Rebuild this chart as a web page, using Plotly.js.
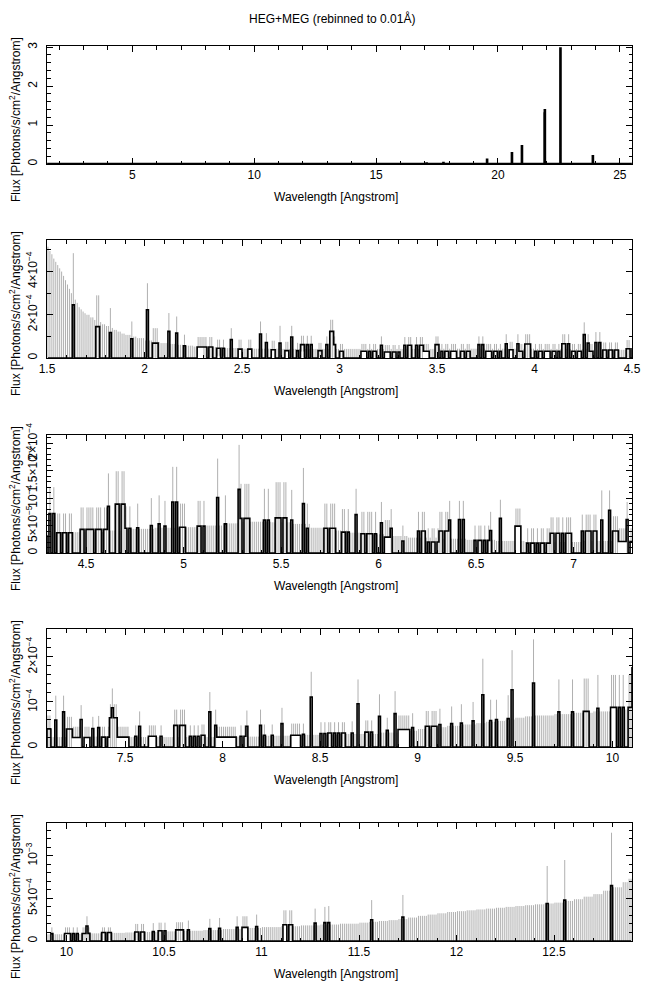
<!DOCTYPE html>
<html><head><meta charset="utf-8">
<script src="https://cdn.plot.ly/plotly-3.0.1.min.js"></script>
<style>html,body{margin:0;padding:0;background:#fff}#plot{width:650px;height:991px}</style>
</head><body><div id="plot"></div>
<script>
// ---------------- DATA (flux in units of 1e-5 photons/s/cm2/Angstrom) ----------------
const UNIT = 1e-5;
const BIN = 0.01;               // rebinned to 0.01 Angstrom
const gridLo = 1.5, gridHi = 12.9, fullHi = 25.5;

// runs of non-zero bins: start wavelength, number of bins, flux, error-bar top, error-bar bottom
const runStart = [1.63,1.75,1.82,1.93,2.01,2.04,2.12,2.16,2.20,2.27,2.30,2.37,2.44,2.48,2.53,2.59,2.62,2.65,2.69,2.72,2.75,2.78,2.80,2.83,2.89,2.93,2.95,2.97,3.00,3.11,3.15,3.21,3.23,3.27,3.33,3.35,3.38,3.41,3.43,3.49,3.52,3.57,3.62,3.71,3.75,3.79,3.85,3.87,3.91,3.92,3.95,4.00,4.05,4.09,4.14,4.17,4.19,4.22,4.25,4.27,4.28,4.31,4.35,4.47,4.53,4.61,4.65,4.70,4.76,4.83,4.87,4.90,4.94,4.96,4.98,5.07,5.17,5.21,5.28,5.29,5.41,5.47,5.55,5.61,5.63,5.72,5.81,5.88,5.91,6.01,6.03,6.06,6.12,6.20,6.25,6.31,6.36,6.41,6.49,6.57,6.62,6.70,6.76,6.88,7.04,7.14,7.18,7.20,7.23,7.27,7.29,7.33,7.36,7.38,7.42,7.43,7.44,7.46,7.55,7.57,7.62,7.68,7.75,7.83,7.89,7.93,7.96,7.97,8.09,8.12,8.19,8.21,8.25,8.30,8.35,8.41,8.45,8.50,8.54,8.59,8.66,8.69,8.73,8.80,8.84,8.88,8.90,8.97,9.04,9.11,9.17,9.22,9.28,9.33,9.37,9.40,9.46,9.48,9.59,9.72,9.79,9.85,9.92,9.99,10.03,10.08,10.10,10.11,10.18,10.21,10.35,10.38,10.44,10.47,10.50,10.56,10.62,10.73,10.78,10.87,10.90,10.97,11.11,11.14,11.27,11.32,11.34,11.56,11.72,12.46,12.55,12.79];
const runBins = [1,2,1,1,1,3,1,1,1,3,5,4,1,2,2,1,1,2,1,2,1,1,2,3,2,1,2,1,2,3,4,1,3,4,1,2,2,2,3,2,4,3,5,3,3,4,1,2,1,2,3,4,3,4,2,1,2,2,1,1,2,3,8,6,8,1,5,3,1,1,1,1,1,1,3,4,1,1,1,5,3,6,1,1,1,6,4,1,8,1,3,1,1,4,6,5,1,3,8,1,1,3,12,11,8,1,1,3,4,1,3,1,1,4,1,1,2,6,1,1,4,1,6,5,2,1,1,10,3,1,1,1,1,1,5,1,1,3,4,4,1,1,4,1,1,1,6,1,6,1,1,1,1,1,1,1,1,1,1,1,1,3,1,3,3,2,1,1,2,2,2,2,1,2,1,4,1,1,1,1,3,1,2,2,1,1,1,1,1,1,1,1];
const runFlux = [24.6,14.5,11.8,8.9,22.3,6.9,12.3,11.5,5.7,5.1,5.1,4.5,8.5,4.1,4.1,11.1,7.2,3.8,6.9,3.4,9.7,3.4,6.2,6.2,3.4,6.2,12.3,6.2,3.1,3.1,3.1,5.9,2.8,2.8,5.9,5.9,5.9,5.9,3.1,6.2,3.1,3.1,3.1,6.2,3.1,3.1,6.6,3.8,6.6,3.1,6.5,3.1,3.1,3.1,6.6,6.6,3.1,3.1,10.8,6.9,3.1,7.2,3.7,4.3,4.3,8.5,8.9,4.5,4.6,5.0,5.3,4.9,9.3,9.3,4.7,4.9,10.1,5.3,11.6,6.3,6.0,6.4,6.0,9.0,4.5,4.5,3.8,7.0,3.5,5.5,2.9,4.5,2.2,4.0,2.0,4.0,6.0,6.1,2.3,4.1,6.3,4.9,1.8,3.6,4.0,6.0,7.8,4.0,2.1,6.1,2.1,4.1,4.3,2.2,6.5,8.7,6.5,2.2,2.4,4.6,2.4,2.4,4.8,2.4,2.6,7.8,4.8,2.2,2.4,4.6,4.8,2.6,2.6,5.2,2.6,2.8,11.1,3.0,3.1,3.1,3.1,9.6,3.3,6.8,3.7,7.4,3.9,4.3,4.6,5.0,5.2,5.3,5.8,11.6,5.9,6.1,6.3,12.7,14.2,7.8,7.8,7.9,8.6,8.8,8.8,8.8,17.6,9,10,10,10.6,10.6,11,12,12,13,13,14.5,15,16,16,17,19,19,21,21.5,21.5,25,28,44,48,65];
const runTop = [48.5,29,23.1,16.9,34.6,13.8,20.8,19.2,10.8,9.7,9.7,8.5,13.8,8.5,8.5,16.9,11.5,8,14.9,7.5,14.9,7,10.3,10.3,7,10,17.7,10,6.5,6.5,6.5,10,6,6,9.7,9.7,9.7,9.7,6.5,10,6.5,6.5,6.5,10,6.5,6.5,11,7.5,11,6.5,11,6.5,6.5,6.5,11,11,6.5,6.5,16.5,11,6.5,12,7.2,8.3,8.3,14.5,14.9,8.5,9,10,10.5,9.5,15.7,15.7,9,9.5,17.2,10.5,19.7,12.6,11.7,12.9,11.5,15.5,9,9,8,11.7,7.5,9.3,6,8,5,7.5,4.5,7.5,9.5,9.5,5,7.5,9.7,8.1,4.5,6.5,7,11.4,11.4,6.7,4.5,9.3,4.5,6.7,6.9,4.5,9.5,13,9.5,4.5,4.8,7.9,4.8,4.8,8.3,4.8,5,12.2,8.3,4.5,4.8,8.1,8.3,5,5,8.7,5.2,5.2,16.7,5.5,5.5,5.5,5.7,15,5.9,11.7,6.5,12.4,7,7.5,8,8.5,9,9.5,10,19.6,10.5,10.5,11.5,21.5,23.9,15,15,15.2,16,16,16,16,29,16,16,16,20,20,21,21.5,21.5,22,24,26,27,29,29,31,36,36,38,40,41,48,54,88,95,127];
const runBottom = [0,0,0,0,0,0,0,0,0,5.1,0,1,0,4.1,4.1,0,0,3.8,0,3.4,0,0,3,0,0,0,0,0,0,3.1,0,0,2.8,0,0,0,0,0,3.1,0,0,3.1,0,0,3.1,0,0,3.8,0,0,0,0,3.1,0,0,0,0,3.1,0,0,0,0,0,0,0,0,0,0,0,0,0,0,0,0,0,0,0,0,0,0,0,0,0,0,0,0,0,0,0,0,2.9,0,0,0,0,0,0,0,0,0,0,4.9,0,0,0,0,0,0,2.1,0,2.1,0,0,0,0,0,0,2.2,0,0,2.4,0,0,0,0,0,0,2.2,0,0,0,0,0,0,2.6,0,0,0,0,0,0,0,0,0,0,0,3.9,0,0,0,0,0,0,0,0,0,0,0,0,0,0,0,8.6,8.8,0,0,0,0,0,0,0,0,0,0,0,0,0,0,0,0,16,0,19,0,0,0,0,0,0,0,0,0];

// runs that contain empty bins: run start and bin pattern (1 = filled, 0 = empty)
const maskStart = [2.30,2.37,2.83,3.15,3.27,3.38,3.52,3.62,3.71,3.79,4.00,4.09,4.31,4.35,4.47,4.53,4.65,4.70,5.07,5.29,5.41,5.47,5.72,5.81,5.91,6.20,6.25,6.31,6.41,6.49,6.76,6.88,7.04,7.38,7.75,7.83,8.09,8.50,8.54,8.59,8.73,9.04,10.03];
const maskPattern = ["11011","1101","101","1011","1101","01","1011","11011","101","1101","1011","1101","101","11011011","110111","10111011","11011","101","1101","10111","101","111011","110111","1101","11011101","1011","101101","11011","101","10110101","101101011011","11011010111","10111011","1101","110111","10101","101","101","1101","1011","1101","110111","101"];

// 1-sigma upper limit for empty bins (read as steps from the picture)
const envWave = [1.50,1.51,1.52,1.53,1.54,1.55,1.56,1.57,1.58,1.59,1.60,1.61,1.62,1.63,1.64,1.65,1.66,1.67,1.68,1.69,1.70,1.72,1.74,1.76,1.78,1.80,1.82,1.84,1.86,1.88,1.90,1.93,1.96,2.00,2.04,2.08,2.12,2.16,2.20,2.25,2.30,2.40,2.50,2.70,3.00,3.50,4.00,4.30,4.60,4.70,4.85,5.00,5.10,5.20,5.30,5.45,5.55,5.65,5.75,5.85,5.95,6.05,6.15,6.30,6.45,6.60,6.75,6.90,7.05,7.20,7.40,8.00,8.20,8.40,8.60,8.80,8.90,9.00,9.08,9.15,9.22,9.30,9.35,9.40,9.45,9.50,9.55,9.60,9.70,9.80,9.90,10.00,10.10,10.20,10.30,10.40,10.50,10.60,10.70,10.80,10.90,11.00,11.10,11.20,11.30,11.40,11.50,11.55,11.60,11.65,11.70,11.75,11.80,11.85,11.90,11.95,12.00,12.05,12.10,12.15,12.20,12.25,12.30,12.35,12.40,12.45,12.50,12.55,12.60,12.65,12.70,12.75,12.80,12.85,12.88];
const envFlux = [51.5,49.5,48,46,44.5,43,41.5,40,38,36,34,32,30,28.5,27,25.5,23.5,22.5,21.5,20.7,20,18.8,17.6,16.6,15.6,14.8,13.9,13.0,12.2,11.3,10.7,9.9,9.2,8.1,7.4,6.9,6.5,6.1,5.7,5.3,5.0,4.6,4.3,4.2,4.2,4.3,4.2,3.8,4.1,4.4,4.6,4.7,5.0,5.4,5.7,5.6,5.3,4.6,4.1,3.7,3.4,3.1,2.8,2.6,2.4,2.2,2.0,2.0,2.2,2.3,2.2,2.3,2.5,2.7,2.9,3.2,3.6,4.0,4.4,4.7,5.0,5.3,5.6,5.8,6.1,6.5,6.8,7.0,7.3,7.6,7.9,8.3,9.0,9.5,10,10.6,11.3,12,12.8,14,15.3,16.3,17.3,18.3,19.3,20.3,21.5,22.5,23.5,24.5,25.7,27.5,29.5,31,32.5,34,35,36,37,38,39,40,41,42,43,44,45,47,49,52,55,59,63,69,73];

// strong lines in the full-range panel (absolute flux)
const lineWave = [17.08,17.76,19.56,20.58,20.99,21.91,21.92,22.56,23.89];
const lineFlux = [0.015,0.03,0.11,0.28,0.46,1.30,1.38,2.97,0.20];

// tick labels
const yTickVals = [[0,1,2,3],[0,2e-4,4e-4],[0,5e-5,1e-4,1.5e-4,2e-4],[0,1e-4,2e-4],[0,5e-4,1e-3]];
const yTickText = [["0","1","2","3"],["0","2×10<sup>−4</sup>","4×10<sup>−4</sup>"],["0","5×10<sup>−5</sup>","10<sup>−4</sup>","1.5×10<sup>−4</sup>","2×10<sup>−4</sup>"],["0","10<sup>−4</sup>","2×10<sup>−4</sup>"],["0","5×10<sup>−4</sup>","10<sup>−3</sup>"]];

// ---------------- LAYOUT CONSTANTS ----------------
const W = 650, H = 991, PL = 47, PR = 632, PH = 118;
const panelTop = [46, 240, 435, 629, 823];
const xRange = [[1.5,25.5],[1.5,4.5],[4.3,7.3],[7.1,10.1],[9.9,12.9]];
const yTop = [3.03, 5.46e-4, 2.15e-4, 2.62e-4, 1.384e-3];
const yMinor = [0.2, 1e-4, 1e-5, 2e-5, 1e-4];
const xMajor = [5,0.5,0.5,0.5,0.5], xMinor = [1,0.1,0.1,0.1,0.1];
const FONT = "Liberation Sans, Arial, Helvetica, sans-serif";

// ---------------- BUILD BINS ----------------
function envAt(c){
  let v = envFlux[0];
  for (let k = 0; k < envWave.length; k++){ if (envWave[k] <= c + 1e-9) v = envFlux[k]; else break; }
  return v;
}
const nFine = Math.round((gridHi - gridLo)/BIN);
const cx = [], fy = [], ep = [], em = [];
for (let i = 0; i < nFine; i++){
  const c = gridLo + (i + 0.5)*BIN;
  cx.push(c); fy.push(0); ep.push(envAt(c - 0.5*BIN)*UNIT); em.push(0);
}
for (let r = 0; r < runStart.length; r++){
  const i0 = Math.round((runStart[r] - gridLo)/BIN);
  const mi = maskStart.findIndex(s => Math.abs(s - runStart[r]) < 1e-6);
  const pat = mi >= 0 ? maskPattern[mi] : null;
  for (let j = 0; j < runBins[r]; j++){
    const k = i0 + j; if (k < 0 || k >= nFine) continue;
    if (pat && pat[j] === '0') continue;
    fy[k] = runFlux[r]*UNIT;
    ep[k] = (runTop[r] - runFlux[r])*UNIT;
    em[k] = (runFlux[r] - runBottom[r])*UNIT;
  }
}
// full range bins
const nFull = Math.round((fullHi - gridLo)/BIN);
const fx = [], ff = [];
for (let i = 0; i < nFull; i++){ fx.push(gridLo + (i + 0.5)*BIN); ff.push(i < nFine ? fy[i] : 0); }
for (let k = 0; k < lineWave.length; k++){
  const i = Math.round((lineWave[k] - gridLo)/BIN - 0.5);
  ff[i] = lineFlux[k];
}

// ---------------- TRACES ----------------
const data = [];
data.push({x: fx, y: ff, type:'scatter', mode:'lines', line:{color:'#000', width:2.4, shape:'hvh'}, xaxis:'x', yaxis:'y', hoverinfo:'skip'});
for (let p = 1; p < 5; p++){
  const lo = xRange[p][0] - 0.02, hi = xRange[p][1] + 0.02;
  const X=[],Y=[],EP=[],EM=[];
  for (let i = 0; i < nFine; i++){ if (cx[i] >= lo && cx[i] <= hi){ X.push(cx[i]); Y.push(fy[i]); EP.push(ep[i]); EM.push(em[i]); } }
  const ax = 'x' + (p+1), ay = 'y' + (p+1);
  data.push({x:X, y:Y, type:'scatter', mode:'markers', marker:{size:1, color:'rgba(0,0,0,0)'},
    error_y:{type:'data', symmetric:false, array:EP, arrayminus:EM, color:'#b0b0b0', thickness:1, width:0},
    xaxis:ax, yaxis:ay, hoverinfo:'skip'});
  data.push({x:X, y:Y, type:'scatter', mode:'lines', line:{color:'#000', width:1.6, shape:'hvh'}, xaxis:ax, yaxis:ay, hoverinfo:'skip'});
}

// ---------------- LAYOUT ----------------
const layout = {width:W, height:H, margin:{l:0,r:0,t:0,b:0}, paper_bgcolor:'#fff', plot_bgcolor:'#fff',
  showlegend:false, font:{family:FONT, size:12, color:'#000'}, annotations:[]};
const axCommon = {showline:true, linecolor:'#000', linewidth:1, mirror:'allticks', ticks:'inside', tickcolor:'#000',
  tickwidth:1, showgrid:false, zeroline:false, fixedrange:true, tickfont:{family:FONT, size:12, color:'#000'}};
for (let p = 0; p < 5; p++){
  const sfx = p === 0 ? '' : String(p+1);
  const top = panelTop[p], bot = top + PH;
  layout['xaxis'+sfx] = Object.assign({}, axCommon, {
    domain:[PL/W, PR/W], anchor:'y'+sfx, range:xRange[p], tickmode:'linear', tick0:0, dtick:xMajor[p], ticklen:6,
    minor:{tickmode:'linear', tick0:0, dtick:xMinor[p], ticks:'inside', ticklen:3.5, tickcolor:'#000', tickwidth:1, showgrid:false}
  });
  layout['yaxis'+sfx] = Object.assign({}, axCommon, {
    domain:[1 - bot/H, 1 - top/H], anchor:'x'+sfx, range:[0, yTop[p]], tickmode:'array',
    tickvals:yTickVals[p], ticktext:yTickText[p], tickangle:-90, ticklen:6, ticklabelstandoff:4,
    minor:{tickmode:'linear', tick0:0, dtick:yMinor[p], ticks:'inside', ticklen:3.5, tickcolor:'#000', tickwidth:1, showgrid:false}
  });
  layout.annotations.push({xref:'paper', yref:'paper', x:336/W, y:1 - (bot + 33)/H, xanchor:'center', yanchor:'middle',
    showarrow:false, text:'Wavelength [Angstrom]', font:{family:FONT, size:12, color:'#000'}});
  layout.annotations.push({xref:'paper', yref:'paper', x:15/W, y:1 - (top + 74)/H, xanchor:'center', yanchor:'middle',
    showarrow:false, textangle:-90, text:'Flux [Photons/s/cm<sup>2</sup>/Angstrom]', font:{family:FONT, size:12, color:'#000'}});
}
layout.annotations.push({xref:'paper', yref:'paper', x:332/W, y:1 - 18/H, xanchor:'center', yanchor:'middle',
  showarrow:false, text:'HEG+MEG (rebinned to 0.01Å)', font:{family:FONT, size:12, color:'#000'}});

Plotly.newPlot('plot', data, layout, {staticPlot:true, displayModeBar:false});
</script></body></html>
